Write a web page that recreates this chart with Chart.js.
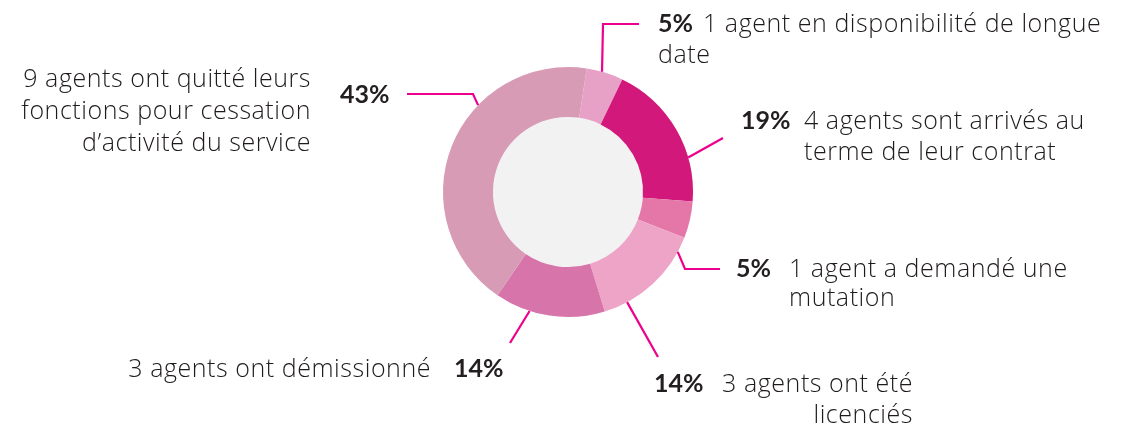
<!DOCTYPE html>
<html>
<head>
<meta charset="utf-8">
<script src="https://cdn.jsdelivr.net/npm/chart.js@4.4.0/dist/chart.umd.min.js"></script>
<style>
    html, body { margin: 0; padding: 0; background: #fff; }
    #wrap { width: 1125px; height: 426px; }
</style>
</head>
<body>
<div id="wrap"><canvas id="departs-chart" width="1125" height="426"></canvas></div>
<script>
// données du graphique
const labels = [
    ['1 agent en disponibilité de longue', 'date'],
    ['4 agents sont arrivés au', 'terme de leur contrat'],
    ['1 agent a demandé une', 'mutation'],
    ['3 agents ont été', 'licenciés'],
    ['3 agents ont démissionné'],
    ['9 agents ont quitté leurs', 'fonctions pour cessation', 'd\u2019activité du service']
];
const agents = [1, 4, 1, 3, 3, 9];
const colors = ['#e8a1c6', '#d2187a', '#e577a8', '#eea4c6', '#d774aa', '#d89bb5'];

// placement des étiquettes (px, relatif au centre du donut)
const callouts = [
    { angle: 15.8, path: [[35, -168], [71, -168]], pct: [90, -160], text: [135, -160], wrapX: 90, align: 'left', lh: 31 },
    { angle: 74, path: [[155, -54]], pct: [173, -63], text: [236, -63], wrapX: 236, align: 'left', lh: 31 },
    { angle: 118.6, path: [[117, 77], [152, 77]], pct: [168, 85], text: [221, 85], wrapX: 221, align: 'left', lh: 29 },
    { angle: 151.8, path: [[90, 165]], pct: [86, 200], text: [345, 200], wrapX: 345, align: 'right', lh: 31 },
    { angle: 197.9, path: [[-58, 151]], pct: [-114, 185], text: [-137, 185], wrapX: -137, align: 'right', lh: 31 },
    { angle: 314, path: [[-95, -98], [-161, -98]], pct: [-228, -89], text: [-257, -105], wrapX: -257, align: 'right', lh: 32 }
];

const total = agents.reduce((a, b) => a + b, 0);
const PCT_FONT = 'bold 25px Lato, sans-serif';
const TEXT_FONT = '300 25px "Open Sans", sans-serif';

const calloutPlugin = {
    id: 'callouts',
    beforeDatasetsDraw(chart) {
        const arc = chart.getDatasetMeta(0).data[0];
        const ctx = chart.ctx;
        ctx.save();
        ctx.fillStyle = '#f2f2f2';
        ctx.beginPath();
        ctx.arc(arc.x, arc.y, arc.innerRadius, 0, Math.PI * 2);
        ctx.fill();
        ctx.restore();
    },
    afterDatasetsDraw(chart) {
        const ctx = chart.ctx;
        const arcs = chart.getDatasetMeta(0).data;
        const cx = arcs[0].x;
        const cy = arcs[0].y;
        const r = arcs[0].outerRadius;

        ctx.save();
        arcs.forEach((arc, i) => {
            const c = callouts[i];
            const a = c.angle * Math.PI / 180;

            ctx.strokeStyle = '#ec008c';
            ctx.lineWidth = 2.2;
            ctx.beginPath();
            ctx.moveTo(cx + r * Math.sin(a), cy - r * Math.cos(a));
            c.path.forEach(p => ctx.lineTo(cx + p[0], cy + p[1]));
            ctx.stroke();

            const pct = Math.round(agents[i] / total * 100) + '%';
            ctx.fillStyle = '#231f20';
            ctx.textBaseline = 'alphabetic';
            ctx.textAlign = 'left';
            ctx.letterSpacing = '0px';
            ctx.font = PCT_FONT;
            ctx.fillText(pct, cx + c.pct[0], cy + c.pct[1]);

            ctx.font = TEXT_FONT;
            ctx.fillStyle = '#1f1b1c';
            ctx.letterSpacing = '0.55px';
            ctx.textAlign = c.align;
            labels[i].forEach((line, j) => {
                const x = j === 0 ? c.text[0] : c.wrapX;
                ctx.fillText(line, cx + x, cy + c.text[1] + j * c.lh);
            });
        });
        ctx.restore();
    }
};

new Chart(document.getElementById('departs-chart'), {
    type: 'doughnut',
    data: {
        labels: labels.map(l => l.join(' ')),
        datasets: [{
            data: agents,
            backgroundColor: colors,
            borderWidth: 0
        }]
    },
    options: {
        responsive: false,
        animation: false,
        rotation: 8.6,
        cutout: '60%',
        layout: {
            padding: { top: 67, bottom: 109, left: 443, right: 432 }
        },
        plugins: {
            legend: { display: false },
            tooltip: { enabled: false }
        }
    },
    plugins: [calloutPlugin]
});
</script>
</body>
</html>
